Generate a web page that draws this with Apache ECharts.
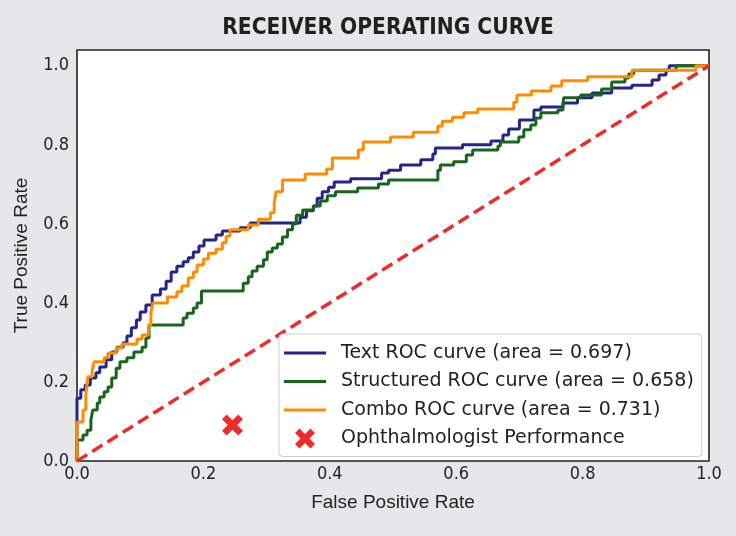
<!DOCTYPE html>
<html>
<head>
<meta charset="utf-8">
<script src="https://cdn.jsdelivr.net/npm/echarts@6/dist/echarts.min.js"></script>
<style>
html,body{margin:0;padding:0;background:#e6e7e9;}
#chart{width:736px;height:536px;}
</style>
</head>
<body>
<div id="chart"></div>
<script>
var titleText = 'RECEIVER OPERATING CURVE';
var xName = 'False Positive Rate';
var yName = 'True Positive Rate';
var seriesNames = ['Text ROC curve (area = 0.697)', 'Structured ROC curve (area = 0.658)', 'Combo ROC curve (area = 0.731)', 'Ophthalmologist Performance'];

var textCurve = [[0,0],[0.006,0.159],[0.013,0.180],[0.021,0.192],[0.030,0.210],[0.036,0.223],[0.046,0.238],[0.055,0.256],[0.063,0.276],[0.073,0.288],[0.079,0.299],[0.086,0.316],[0.094,0.337],[0.100,0.357],[0.109,0.377],[0.119,0.395],[0.132,0.420],[0.141,0.435],[0.149,0.455],[0.158,0.478],[0.168,0.493],[0.176,0.504],[0.184,0.514],[0.193,0.529],[0.201,0.544],[0.220,0.559],[0.230,0.572],[0.258,0.582],[0.274,0.590],[0.353,0.602],[0.363,0.617],[0.374,0.633],[0.380,0.645],[0.388,0.665],[0.398,0.681],[0.407,0.693],[0.433,0.706],[0.482,0.714],[0.493,0.729],[0.512,0.736],[0.544,0.749],[0.563,0.762],[0.567,0.777],[0.610,0.792],[0.655,0.800],[0.674,0.810],[0.683,0.825],[0.700,0.840],[0.723,0.863],[0.734,0.888],[0.769,0.896],[0.792,0.906],[0.815,0.919],[0.846,0.931],[0.878,0.944],[0.910,0.951],[0.921,0.964],[0.932,0.977],[0.937,0.989],[1.0,1.0]];

var structuredCurve = [[0,0],[0.0095,0.053],[0.016,0.066],[0.022,0.078],[0.025,0.104],[0.032,0.129],[0.036,0.147],[0.043,0.162],[0.049,0.175],[0.055,0.187],[0.062,0.210],[0.068,0.235],[0.079,0.251],[0.090,0.261],[0.103,0.276],[0.109,0.288],[0.114,0.311],[0.168,0.344],[0.174,0.362],[0.184,0.374],[0.190,0.387],[0.197,0.400],[0.263,0.430],[0.271,0.450],[0.277,0.466],[0.285,0.481],[0.295,0.493],[0.301,0.509],[0.309,0.529],[0.317,0.539],[0.325,0.549],[0.333,0.567],[0.341,0.585],[0.347,0.600],[0.357,0.622],[0.374,0.635],[0.385,0.645],[0.396,0.658],[0.409,0.671],[0.444,0.681],[0.477,0.691],[0.493,0.701],[0.571,0.711],[0.575,0.736],[0.596,0.749],[0.616,0.757],[0.626,0.774],[0.666,0.787],[0.670,0.797],[0.699,0.807],[0.707,0.820],[0.718,0.838],[0.726,0.850],[0.734,0.868],[0.761,0.881],[0.769,0.888],[0.770,0.903],[0.797,0.919],[0.830,0.926],[0.846,0.941],[0.867,0.959],[0.873,0.969],[0.881,0.979],[0.948,0.989],[1.0,1.0]];

var comboCurve = [[0,0],[0.0095,0.099],[0.014,0.129],[0.017,0.167],[0.024,0.213],[0.027,0.230],[0.043,0.251],[0.049,0.261],[0.062,0.273],[0.071,0.286],[0.095,0.296],[0.103,0.309],[0.113,0.319],[0.117,0.344],[0.120,0.377],[0.143,0.400],[0.158,0.415],[0.166,0.428],[0.176,0.443],[0.184,0.463],[0.190,0.478],[0.200,0.496],[0.208,0.511],[0.220,0.526],[0.230,0.536],[0.236,0.552],[0.242,0.569],[0.271,0.585],[0.287,0.597],[0.306,0.612],[0.312,0.628],[0.315,0.653],[0.325,0.681],[0.361,0.711],[0.395,0.726],[0.404,0.739],[0.445,0.767],[0.453,0.787],[0.496,0.807],[0.532,0.820],[0.571,0.832],[0.578,0.848],[0.594,0.860],[0.612,0.870],[0.634,0.881],[0.691,0.891],[0.696,0.908],[0.719,0.926],[0.750,0.936],[0.767,0.949],[0.808,0.962],[0.878,0.972],[0.979,0.989],[1.0,1.0]];

var chanceLine = [[0,0],[1,1]];
var ophthalmologist = [[0.246,0.091]];

var xTicks = [0, 0.2, 0.4, 0.6, 0.8, 1.0];
var yTicks = [0, 0.2, 0.4, 0.6, 0.8, 1.0];

var crossPath = 'path://M0,4.5 L4.5,0 L10,5.5 L15.5,0 L20,4.5 L14.5,10 L20,15.5 L15.5,20 L10,14.5 L4.5,20 L0,15.5 L5.5,10 Z';
var linePath = 'path://M0,0 L42,0 L42,3 L0,3 Z';

var condensed = "'Liberation Sans Narrow', 'DejaVu Sans Condensed', 'Roboto', 'Liberation Sans', sans-serif";

var chart = echarts.init(document.getElementById('chart'), null, {renderer: 'canvas'});
var option = {
  backgroundColor: '#e6e7e9',
  animation: false,
  title: {
    text: titleText,
    left: 388,
    textAlign: 'center',
    top: 17,
    padding: 0,
    textStyle: {fontFamily: condensed, fontWeight: 'bold', fontSize: 22.5, color: '#231f20'}
  },
  grid: {
    left: 77, right: 27, top: 50, bottom: 75,
    show: true, backgroundColor: '#ffffff', borderColor: '#222222', borderWidth: 1.6
  },
  legend: {
    orient: 'vertical',
    left: 279, top: 334,
    padding: [9, 8, 8, 5],
    itemWidth: 42, itemHeight: 20, itemGap: 8.5,
    backgroundColor: '#ffffff',
    borderColor: '#cccccc', borderWidth: 1, borderRadius: 4,
    selectedMode: false,
    textStyle: {fontFamily: 'DejaVu Sans', fontSize: 19, color: '#222222', lineHeight: 20, padding: [0, 0, 0, 10]},
    data: [
      {name: seriesNames[0], icon: linePath, itemStyle: {color: '#24248a'}},
      {name: seriesNames[1], icon: linePath, itemStyle: {color: '#17661c'}},
      {name: seriesNames[2], icon: linePath, itemStyle: {color: '#ff8c00'}},
      {name: seriesNames[3], icon: crossPath, itemStyle: {color: '#ee2b2b'}}
    ]
  },
  xAxis: {
    type: 'value', min: 0, max: 1, interval: 0.2,
    name: xName, nameLocation: 'middle', nameGap: 32,
    nameTextStyle: {fontFamily: 'Liberation Sans', fontSize: 19, color: '#222222'},
    axisLine: {show: false}, axisTick: {show: false}, splitLine: {show: false},
    axisLabel: {
      margin: 4, fontFamily: condensed, fontSize: 18, color: '#222222',
      formatter: function (v) { return xTicks.indexOf(Math.round(v * 10) / 10) >= 0 ? v.toFixed(1) : ''; }
    }
  },
  yAxis: {
    type: 'value', min: 0, max: 1.04, interval: 0.2,
    name: yName, nameLocation: 'middle', nameGap: 46, nameRotate: 90,
    nameTextStyle: {fontFamily: 'Liberation Sans', fontSize: 19, color: '#222222'},
    axisLine: {show: false}, axisTick: {show: false}, splitLine: {show: false},
    axisLabel: {
      margin: 8, fontFamily: condensed, fontSize: 18, color: '#222222',
      formatter: function (v) { return (v <= 1.0001 && yTicks.indexOf(Math.round(v * 10) / 10) >= 0) ? v.toFixed(1) : ''; }
    }
  },
  series: [
    {name: seriesNames[0], type: 'line', step: 'start', data: textCurve, symbol: 'none',
     lineStyle: {color: '#24248a', width: 3}, itemStyle: {color: '#24248a'}},
    {name: seriesNames[1], type: 'line', step: 'start', data: structuredCurve, symbol: 'none',
     lineStyle: {color: '#17661c', width: 3}, itemStyle: {color: '#17661c'}},
    {name: seriesNames[2], type: 'line', step: 'start', data: comboCurve, symbol: 'none',
     lineStyle: {color: '#ff8c00', width: 3}, itemStyle: {color: '#ff8c00'}},
    {name: 'chance', type: 'line', data: chanceLine, symbol: 'none',
     lineStyle: {color: '#ee2b2b', width: 3.5, type: [12, 6]}},
    {name: seriesNames[3], type: 'scatter', data: ophthalmologist, symbol: crossPath, symbolSize: 21,
     itemStyle: {color: '#ee2b2b', opacity: 1}}
  ]
};
chart.setOption(option);
</script>
</body>
</html>
